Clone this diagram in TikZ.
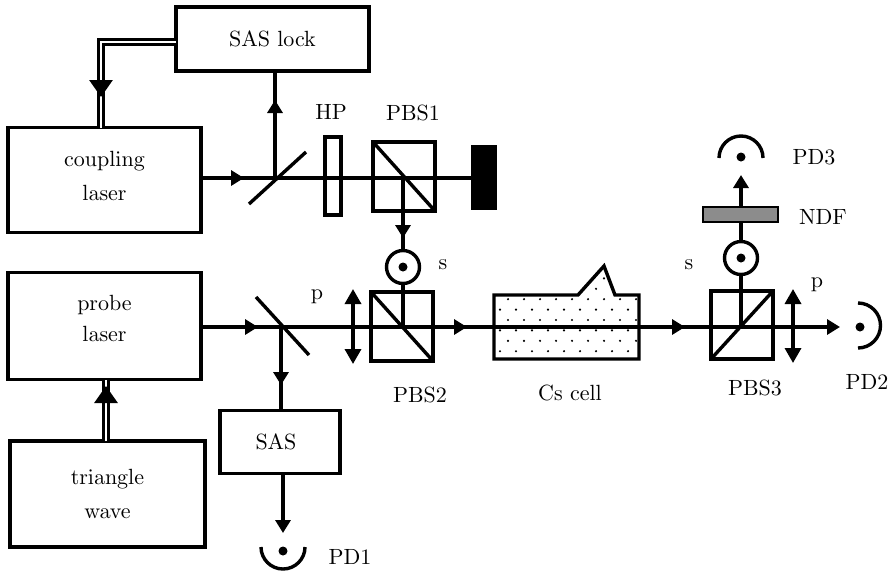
\documentclass[tikz,border=0pt]{standalone}
\usepackage{tikz}
\usetikzlibrary{arrows.meta}
\font\labelfont=cmr10 at 22pt
\newcommand{\boxfont}{\labelfont\baselineskip=34pt\relax}
\tikzset{
	box/.style={draw,line width=3.4pt,inner sep=0pt,outer sep=0pt,align=center,font=\boxfont},
	optic/.style={draw,line width=3.4pt,inner sep=0pt,outer sep=0pt},
	txt/.style={inner sep=0pt,font=\labelfont},
	beam/.style={line width=3.4pt},
	tipped/.style={beam,-{Triangle[length=13pt,width=15pt]}},
	polar/.style={beam,{Triangle[length=15pt,width=16pt]}-{Triangle[length=15pt,width=16pt]}},
	feed/.style={draw=black,line width=2.8pt,double=white,double distance=2.4pt},
	feedtip/.style={line width=3pt,-{Triangle[length=17pt,width=23pt]}},
	spot/.style={circle,fill,inner sep=0pt,minimum size=9pt},
	ring/.style={circle,draw,line width=3.4pt,inner sep=0pt,outer sep=0pt,minimum size=33pt}
}
\begin{document}
\begin{tikzpicture}[x=1pt,y=-1pt]
	\useasboundingbox (0,0) rectangle (888,571);
	%BOXES
	\node[box,minimum width=193pt,minimum height=64pt] (lock) at (272.5,39) {SAS lock};
	\node[box,minimum width=193pt,minimum height=105pt,text height=46pt,text depth=6pt] (coupling) at (104.5,180) {coupling\\laser};
	\node[box,minimum width=193pt,minimum height=107pt,text height=45pt,text depth=15pt] (probe) at (104.5,326) {probe\\[-3pt]laser};
	\node[box,minimum width=195pt,minimum height=106pt,text height=54pt,text depth=6pt] (triangle) at (107.5,494) {triangle\\wave};
	\node[box,minimum width=120pt,minimum height=63pt] (sas) at (280,442) {SAS\hspace*{8pt}};
	%OPTICS
	\node[optic,minimum width=16pt,minimum height=78pt] (hp) at (333,176) {};
	\node[optic,minimum width=62pt,minimum height=69pt] (pbsone) at (404,176.5) {};
	\node[optic,minimum width=62pt,minimum height=69pt] (pbstwo) at (402,326.5) {};
	\node[optic,minimum width=62pt,minimum height=68pt] (pbsthree) at (742,325) {};
	\node[fill,inner sep=0pt,minimum width=26pt,minimum height=65pt] (dump) at (484,177.5) {};
	\node[optic,fill=black!45,line width=2pt,minimum width=75pt,minimum height=15pt] (ndf) at (740.5,214.5) {};
	\node[ring] (sone) at (403,267) {};
	\node[spot] (sdotone) at (sone) {};
	\node[ring] (stwo) at (741,258) {};
	\node[spot] (sdottwo) at (stwo) {};
	\draw[beam] (pbsone.north west) -- (pbsone.south east);
	\draw[beam] (pbstwo.north west) -- (pbstwo.south east);
	\draw[beam] (pbsthree.south west) -- (pbsthree.north east);
	\coordinate (bsone) at (275,178);
	\coordinate (bstwo) at (281,327);
	\draw[beam] (249,204) -- (306,152);
	\draw[beam] (256,297) -- (309,355);
	%COUPLING BEAM
	\coordinate (cubeone) at (403,178);
	\draw[beam] (coupling.east |- bsone) -- (dump.west |- bsone);
	\draw[tipped] (coupling.east |- bsone) -- (244,178);
	\draw[beam] (bsone) -- (bsone |- lock.south);
	\draw[tipped] (bsone) -- (275,100);
	\draw[beam] (cubeone) -- (sone.north);
	\draw[tipped] (cubeone) -- (403,238);
	%PROBE BEAM
	\coordinate (cubetwo) at (403,327);
	\coordinate (cubethree) at (741,327);
	\draw[beam] (probe.east |- bstwo) -- (835,327);
	\draw[tipped] (probe.east |- bstwo) -- (258,327);
	\draw[tipped] (pbstwo.east |- bstwo) -- (467,327);
	\draw[tipped] (pbstwo.east |- bstwo) ++(220,0) -- (685,327);
	\draw[tipped] (pbsthree.east |- bstwo) -- (840,327);
	\draw[beam] (sone.south) -- (cubetwo);
	\draw[beam] (bstwo) -- (bstwo |- sas.north);
	\draw[tipped] (bstwo) -- (281,385);
	\draw[tipped] (283,474) -- (283,533);
	\draw[beam] (cubethree) -- (stwo.south);
	\draw[beam] (stwo.north) -- (ndf.south -| stwo);
	\draw[tipped] (ndf.north -| stwo) -- (741,175);
	%POLARISATION
	\draw[polar] (353,289) -- (353,364);
	\draw[polar] (793,289) -- (793,363);
	%FEEDBACK
	\coordinate (corner) at (101,42);
	\coordinate (lockout) at (176,42);
	\draw[feed] (lockout) -- (corner) -- (corner |- coupling.north);
	\draw[feedtip] (101,80) -- (101,97);
	\draw[feed] (106,441) -- (106,380);
	\draw[feedtip] (106,403) -- (106,386);
	%CELL
	\begin{scope}
		\clip (494,295) -- (578,295) -- (604,266) -- (615,295) -- (639,295) -- (639,359) -- (494,359) -- cycle;
		\foreach \row in {0,...,9}{
			\foreach \col in {0,...,10}{
				\fill ({500+\col*16+mod(\row,2)*8},{268+\row*10.4}) circle (1.2pt);
			}
		}
	\end{scope}
	\draw[beam,line join=miter] (494,295) -- (578,295) -- (604,266) -- (615,295) -- (639,295) -- (639,359) -- (494,359) -- cycle;
	%DETECTORS
	\node[spot] (pdone) at (283,551) {};
	\node[spot] (pdtwo) at (860,327) {};
	\node[spot] (pdthree) at (741,157) {};
	\draw[beam] (261,547) arc[start angle=180,end angle=0,radius=22];
	\draw[beam] (719,158) arc[start angle=180,end angle=360,radius=22];
	\draw[beam] (858,303) arc[start angle=-90,end angle=90,radius=22.5];
	%LABELS
	\node[txt] (hplabel) at (331,112) {HP};
	\node[txt] (pbsonelabel) at (413,113) {PBS1};
	\node[txt] (pbstwolabel) at (420,395) {PBS2};
	\node[txt] (pbsthreelabel) at (755,388) {PBS3};
	\node[txt] (celllabel) at (570,393) {Cs cell};
	\node[txt] (ndflabel) at (823,217) {NDF};
	\node[txt] (pdonelabel) at (350,557) {PD1};
	\node[txt] (pdtwolabel) at (867,382) {PD2};
	\node[txt] (pdthreelabel) at (814,157) {PD3};
	\node[txt] (sonelabel) at (443,265) {s};
	\node[txt] (stwolabel) at (689,265) {s};
	\node[txt] (ponelabel) at (317,297) {p};
	\node[txt] (ptwolabel) at (817,285) {p};
\end{tikzpicture}
\end{document}
